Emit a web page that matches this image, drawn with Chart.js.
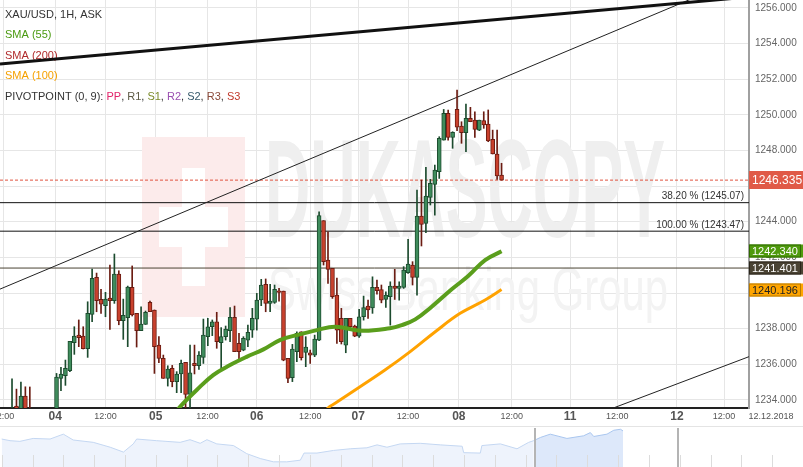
<!DOCTYPE html>
<html>
<head>
<meta charset="utf-8">
<script src="https://cdn.jsdelivr.net/npm/chart.js@4.4.1/dist/chart.umd.min.js"></script>
<style>
  html, body { margin: 0; padding: 0; background: #fff; }
  #wrap { position: relative; width: 803px; height: 467px; overflow: hidden; }
  .box { position: absolute; left: 0; width: 803px; }
</style>
</head>
<body>
<div id="wrap">
  <div class="box" style="top:0;height:428px"><canvas id="main" width="803" height="428"></canvas></div>
  <div class="box" style="top:428px;height:39px"><canvas id="nav" width="803" height="39"></canvas></div>
</div>
<script>
// XAU/USD 1H candles (index 0 = first candle on the left)
const opens = [
  1232.9, 1233.66, 1233.0, 1234.22, 1233.4, 1232.9, 1232.6, 1232.2, 1232.4, 1232.0,
  1232.6, 1235.21, 1235.36, 1235.64, 1237.21, 1237.64, 1237.59, 1236.88, 1238.8, 1240.88,
  1239.65, 1239.29, 1239.72, 1239.57, 1241.07, 1238.45, 1238.62, 1240.32, 1238.86, 1237.89,
  1238.24, 1239.48, 1239.05, 1237.08, 1236.33, 1235.21, 1235.77, 1235.03, 1235.46, 1236.11,
  1234.31, 1236.05, 1235.92, 1236.39, 1237.55, 1238.11, 1238.39, 1237.21, 1237.55, 1237.89,
  1238.64, 1237.18, 1236.8, 1237.36, 1237.92, 1238.54, 1239.61, 1240.49, 1239.42, 1239.48,
  1240.13, 1240.11, 1236.33, 1235.25, 1236.71, 1237.83, 1236.67, 1236.65, 1236.52, 1237.36,
  1244.06, 1241.85, 1241.38, 1239.88, 1238.58, 1237.08, 1238.58, 1238.15, 1237.58, 1238.67,
  1239.27, 1239.17, 1240.32, 1240.2, 1239.64, 1239.79, 1240.39, 1240.26, 1240.32, 1241.14,
  1241.57, 1240.88, 1244.32, 1243.91, 1245.37, 1246.1, 1246.81, 1248.58, 1250.08, 1248.73,
  1250.3, 1249.37, 1249.0, 1249.8, 1249.7, 1249.14, 1249.67, 1249.48, 1248.62, 1247.8,
  1246.62
];
const highs = [
  1235.18, 1234.61, 1235.01, 1234.74, 1234.73, 1233.3, 1233.0, 1232.7, 1232.9, 1232.8,
  1235.49, 1235.83, 1236.24, 1237.29, 1238.11, 1238.49, 1238.11, 1239.51, 1241.35, 1241.12,
  1240.21, 1240.04, 1241.57, 1242.19, 1241.25, 1239.66, 1240.39, 1241.52, 1238.86, 1239.23,
  1238.99, 1239.55, 1239.05, 1237.55, 1236.52, 1235.92, 1235.94, 1235.59, 1236.24, 1236.11,
  1237.08, 1237.08, 1236.71, 1238.54, 1238.58, 1238.49, 1238.92, 1238.06, 1238.15, 1239.18,
  1239.27, 1237.74, 1237.55, 1238.2, 1239.14, 1239.98, 1240.77, 1240.79, 1240.49, 1240.45,
  1240.26, 1240.11, 1236.33, 1237.12, 1237.83, 1237.83, 1237.55, 1236.8, 1237.64, 1244.56,
  1244.06, 1243.44, 1241.38, 1240.84, 1239.14, 1238.58, 1238.58, 1238.2, 1239.08, 1239.83,
  1239.6, 1240.91, 1240.73, 1240.45, 1240.07, 1240.63, 1241.33, 1240.63, 1241.48, 1243.01,
  1241.76, 1245.78, 1246.34, 1247.05, 1246.38, 1247.18, 1248.77, 1250.3, 1250.27, 1249.05,
  1251.39, 1249.61, 1250.6, 1250.42, 1250.17, 1249.7, 1250.17, 1250.27, 1249.14, 1249.14,
  1247.28
];
const lows = [
  1232.5, 1232.8, 1232.7, 1232.6, 1232.5, 1232.3, 1231.9, 1231.6, 1231.8, 1231.7,
  1232.4, 1234.52, 1234.82, 1235.59, 1236.56, 1236.99, 1236.86, 1236.39, 1238.39, 1238.95,
  1238.86, 1238.67, 1237.96, 1239.42, 1238.22, 1237.4, 1236.99, 1238.71, 1236.97, 1237.89,
  1238.24, 1238.95, 1235.49, 1236.09, 1235.21, 1234.78, 1234.74, 1234.41, 1234.41, 1233.4,
  1233.4, 1235.46, 1235.72, 1236.05, 1237.05, 1237.61, 1236.9, 1235.72, 1237.36, 1237.27,
  1236.71, 1236.24, 1236.76, 1236.99, 1237.51, 1237.92, 1239.29, 1238.95, 1238.95, 1239.42,
  1239.55, 1236.2, 1234.97, 1235.03, 1236.15, 1236.24, 1235.87, 1236.05, 1236.43, 1237.33,
  1241.57, 1240.54, 1239.7, 1237.17, 1237.14, 1236.65, 1238.02, 1237.55, 1237.51, 1238.48,
  1238.58, 1238.86, 1239.94, 1239.45, 1239.19, 1238.2, 1239.64, 1239.6, 1240.26, 1241.1,
  1240.45, 1239.88, 1242.64, 1243.39, 1244.94, 1244.37, 1246.43, 1248.58, 1248.58, 1248.12,
  1249.11, 1248.4, 1247.93, 1249.61, 1248.73, 1249.11, 1249.24, 1248.49, 1247.8, 1246.38,
  1246.335
];
const closes = [
  1233.3, 1233.2, 1234.22, 1233.0, 1232.9, 1232.6, 1232.2, 1232.4, 1232.0, 1232.6,
  1235.29, 1235.46, 1235.77, 1237.29, 1237.59, 1237.49, 1236.88, 1238.86, 1240.82, 1239.57,
  1239.37, 1239.66, 1239.57, 1241.07, 1238.45, 1238.75, 1240.34, 1238.77, 1237.89, 1238.26,
  1238.92, 1238.95, 1236.99, 1236.33, 1235.21, 1235.73, 1235.03, 1235.46, 1236.05, 1234.31,
  1235.53, 1235.92, 1236.52, 1237.64, 1238.11, 1238.39, 1237.27, 1237.55, 1237.98, 1238.64,
  1236.71, 1236.71, 1237.46, 1237.79, 1238.58, 1239.61, 1240.45, 1239.42, 1239.55, 1240.21,
  1240.04, 1236.24, 1235.21, 1236.86, 1237.74, 1236.37, 1236.97, 1236.52, 1237.42, 1244.34,
  1241.76, 1241.33, 1239.8, 1237.92, 1237.27, 1238.58, 1238.11, 1237.58, 1238.67, 1239.19,
  1239.05, 1240.32, 1240.13, 1239.6, 1239.89, 1240.39, 1240.26, 1240.39, 1241.29, 1241.63,
  1240.88, 1244.32, 1243.85, 1245.44, 1246.15, 1246.9, 1248.68, 1250.08, 1248.73, 1249.01,
  1249.3, 1249.0, 1249.8, 1249.61, 1249.18, 1249.7, 1249.43, 1248.53, 1247.8, 1246.57,
  1246.335
];

// moving averages, sampled along the drawn curves
const sma55Idx = [36.5, 37.75, 41.5, 45.2, 49.0, 52.7, 56.5, 60.2, 64.0, 68.5, 72.6, 78.6, 84.9, 87.6, 90.6, 94.3, 98.8, 102.5, 106.3, 110];
const sma55Val = [1233.2, 1233.62, 1234.56, 1235.4, 1235.96, 1236.42, 1236.84, 1237.36, 1237.64, 1237.92, 1238.11, 1237.88, 1238.02, 1238.2, 1238.52, 1239.23, 1240.21, 1240.95, 1241.85, 1242.34];
const sma100Idx = [70, 71.0, 72.6, 78.2, 83.8, 89.4, 95.1, 100.7, 106.3, 110];
const sma100Val = [1233.2, 1233.55, 1233.81, 1234.74, 1235.68, 1236.7, 1237.83, 1238.86, 1239.61, 1240.196];

// drawn trend lines: [start index, start price, end index, end price]
const trendMain = [-2.7, 1252.85, 165.6, 1256.61];
const channelUp = [-2.7, 1240.22, 165.6, 1257.86];
const channelLow = [133, 1233.35, 165.6, 1236.43];

// fibonacci / pivot / last price
const fibNames = ["38.20 %", "100.00 %"];
const fibLevels = [1245.07, 1243.47];
const pivotPP = 1241.401;
const lastPrice = 1246.335;

// axes
const timeTicks = [-2.0, 9.7, 21.0, 32.3, 43.9, 55.0, 67.0, 77.8, 89.0, 100.4, 112.3, 125.4, 136.0, 149.4, 160.0];
const timeLabels = ["12:00", "04", "12:00", "05", "12:00", "06", "12:00", "07", "12:00", "08", "12:00", "11", "12:00", "12", "12:00"];
const priceTicks = [1234, 1236, 1238, 1240, 1242, 1244, 1246, 1248, 1250, 1252, 1254, 1256];
const dateLabel = "12.12.2018";

// navigator (longer history), position in days and height of the area
const navPos = [0, 0.27, 0.59, 1.02, 1.57, 2.0, 2.32, 2.97, 3.52, 3.95, 4.27, 4.38, 5.03, 5.79, 6.11, 6.44, 6.66, 6.98, 7.52, 7.95,
  8.39, 8.82, 9.25, 9.69, 9.81, 10.23, 10.77, 11.31, 11.85, 12.18, 12.5, 12.93, 13.58, 14.23, 14.94, 14.99, 15.53, 15.58, 16.18, 16.72,
  17.1, 17.26, 17.48, 17.8, 18.34, 18.88, 19.1, 19.21, 19.64, 19.86, 20.08, 20.16];
const navLevel = [28.7, 27, 26.3, 29.3, 28.7, 33.7, 27.7, 25.3, 20.3, 15.3, 23.7, 28.7, 27, 25.3, 28, 24.3, 28, 23.7, 22, 13.7,
  8.7, 5.3, 5.3, 7, 14.3, 14.3, 17, 18.7, 19.7, 22.7, 20.3, 23.7, 24.3, 22.7, 21.3, 14.7, 14.3, 22, 23.7, 18.7,
  25.3, 27, 30.3, 33.7, 29.3, 32, 35.3, 31.3, 33.7, 37.7, 38.7, 37];
const navWindowStart = 17.26;
const navHandles = [17.31, 21.93];

const FONT = '"Liberation Sans", Arial, sans-serif';
const GREEN_BODY = '#3f8c5c', GREEN_EDGE = '#1c4b2e';
const RED_BODY = '#c9412d', RED_EDGE = '#6b1c12';

const isUp = opens.map((o, i) => closes[i] >= o);
const bodyColors = isUp.map(u => u ? GREEN_BODY : RED_BODY);
const edgeColors = isUp.map(u => u ? GREEN_EDGE : RED_EDGE);

const seg = (a, extra) => Object.assign({
  type: 'line',
  data: [{ x: a[0], y: a[1] }, { x: a[2], y: a[3] }],
  pointRadius: 0,
  borderWidth: 1,
  borderColor: '#222',
  order: 5,
}, extra);
const hline = (v, extra) => seg([-2.7, v, 165.6, v], extra);

const overlay = {
  id: 'overlay',
  beforeDatasetsDraw(chart) {
    const ctx = chart.ctx;
    ctx.save();
    // watermark: logo with a cross, name, slogan
    ctx.fillStyle = '#fcebeb';
    ctx.fillRect(142, 137, 103, 180);
    ctx.fillStyle = '#ffffff';
    ctx.fillRect(159, 207, 69, 40);
    ctx.fillRect(182, 168, 23, 118);
    ctx.fillStyle = '#efefef';
    ctx.font = 'bold 140px ' + FONT;
    ctx.textBaseline = 'alphabetic';
    let w = ctx.measureText('DUKASCOPY').width;
    ctx.save();
    ctx.translate(265, 237);
    ctx.scale(400 / w, 1);
    ctx.fillText('DUKASCOPY', 0, 0);
    ctx.restore();
    ctx.fillStyle = '#f3f3f3';
    ctx.font = '62px ' + FONT;
    w = ctx.measureText('Swiss Banking Group').width;
    ctx.save();
    ctx.translate(268, 310);
    ctx.scale(400 / w, 1);
    ctx.fillText('Swiss Banking Group', 0, 0);
    ctx.restore();

    // legend
    ctx.font = '11px ' + FONT;
    ctx.textBaseline = 'middle';
    ctx.textAlign = 'left';
    const rows = [['XAU/USD, 1H, ASK', '#333'], ['SMA (55)', '#4a9a10'], ['SMA (200)', '#b02a2a'], ['SMA (100)', '#f5a000']];
    rows.forEach((r, k) => { ctx.fillStyle = r[1]; ctx.fillText(r[0], 5, 15 + k * 20.3); });
    const piv = [['PIVOTPOINT (0, 9): ', '#333'], ['PP', '#e2236a'], [', ', '#333'], ['R1', '#5d5a45'], [', ', '#333'],
      ['S1', '#7a8a2a'], [', ', '#333'], ['R2', '#9a4fb0'], [', ', '#333'], ['S2', '#35586a'], [', ', '#333'],
      ['R3', '#8a4a3a'], [', ', '#333'], ['S3', '#c0392b']];
    let px = 5;
    piv.forEach(p => { ctx.fillStyle = p[1]; ctx.fillText(p[0], px, 96.5); px += ctx.measureText(p[0]).width; });
    ctx.restore();
  },
  afterDraw(chart) {
    const ctx = chart.ctx;
    const xs = chart.scales.x, ys = chart.scales.y;
    const area = chart.chartArea;
    ctx.save();
    // fib labels
    ctx.font = '10px ' + FONT;
    ctx.fillStyle = '#333';
    ctx.textAlign = 'right';
    ctx.textBaseline = 'middle';
    fibLevels.forEach((v, k) => {
      ctx.fillText(fibNames[k] + ' (' + v.toFixed(2) + ')', area.right - 5, ys.getPixelForValue(v) - 6);
    });
    // price axis labels
    ctx.textAlign = 'left';
    ctx.fillStyle = '#666';
    priceTicks.forEach(v => ctx.fillText(v.toFixed(3), area.right + 6, ys.getPixelForValue(v)));
    // time axis labels
    ctx.textAlign = 'center';
    timeTicks.forEach((v, k) => {
      const day = timeLabels[k].length === 2;
      ctx.font = (day ? 'bold 12px ' : '9px ') + FONT;
      ctx.fillStyle = '#555';
      ctx.fillText(timeLabels[k], xs.getPixelForValue(v), 417);
    });
    ctx.font = '9px ' + FONT;
    ctx.fillText(dateLabel, 771, 417);
    // separator above navigator
    ctx.fillStyle = '#e4e4e4';
    ctx.fillRect(0, 426, 803, 1);
    // value boxes on the price axis
    const box = (v, bg, edge, fg, size, h) => {
      const y = Math.round(ys.getPixelForValue(v));
      ctx.fillStyle = bg;
      ctx.fillRect(area.right, y - h / 2, 803 - area.right, h);
      if (edge) { ctx.strokeStyle = edge; ctx.lineWidth = 1; ctx.strokeRect(area.right + 0.5, y - h / 2 + 0.5, 51, h - 1); }
      ctx.fillStyle = fg;
      ctx.font = size + 'px ' + FONT;
      ctx.textAlign = 'left';
      ctx.fillText(v.toFixed(3), area.right + 3, y + 0.5);
    };
    box(lastPrice, '#e05a47', null, '#fff', 12, 18);
    box(sma55Val[sma55Val.length - 1], '#4f9a0d', '#2f6a00', '#fff', 11, 13);
    box(pivotPP, '#4a4333', '#2a251a', '#fff', 11, 13);
    box(sma100Val[sma100Val.length - 1], '#ffa500', '#b87a00', '#222', 11, 13);
    ctx.restore();
  }
};

new Chart(document.getElementById('main'), {
  type: 'line',
  data: {
    datasets: [
      {
        type: 'line', label: 'SMA (55)',
        data: sma55Idx.map((x, k) => ({ x, y: sma55Val[k] })),
        borderColor: '#5a9e1c', borderWidth: 4, pointRadius: 0, tension: 0.4, order: 1,
      },
      {
        type: 'line', label: 'SMA (100)',
        data: sma100Idx.map((x, k) => ({ x, y: sma100Val[k] })),
        borderColor: '#ffa200', borderWidth: 3, pointRadius: 0, tension: 0.4, order: 1,
      },
      {
        type: 'bar', label: 'body',
        data: opens.map((o, i) => ({ x: i, y: [o, closes[i]] })),
        backgroundColor: bodyColors, borderColor: edgeColors, borderWidth: 1, borderSkipped: false,
        barThickness: 4, minBarLength: 1, grouped: false, order: 2,
      },
      {
        type: 'bar', label: 'wick',
        data: lows.map((l, i) => ({ x: i, y: [l, highs[i]] })),
        backgroundColor: edgeColors, barThickness: 1, grouped: false, order: 3,
      },
      seg(trendMain, { borderWidth: 3, borderColor: '#111' }),
      seg(channelUp),
      seg(channelLow),
      hline(fibLevels[0], { borderColor: '#111' }),
      hline(fibLevels[1], { borderColor: '#111' }),
      hline(pivotPP, { borderColor: '#4a4333' }),
      hline(lastPrice, { borderColor: '#e0523f', borderDash: [3, 2] }),
    ]
  },
  options: {
    responsive: false,
    animation: false,
    events: [],
    layout: { padding: 0 },
    plugins: { legend: { display: false }, tooltip: { enabled: false } },
    scales: {
      x: {
        type: 'linear', min: -2.7, max: 165.6, offset: false,
        afterBuildTicks: s => { s.ticks = timeTicks.map(v => ({ value: v })); },
        afterFit: s => { s.height = 20; },
        ticks: { display: false },
        grid: { color: '#e6e6e6', drawTicks: false, offset: false },
        border: { color: '#222', width: 2 },
      },
      y: {
        type: 'linear', position: 'right', min: 1233.55, max: 1256.44,
        afterBuildTicks: s => { s.ticks = priceTicks.map(v => ({ value: v })); },
        afterFit: s => { s.width = 54; },
        ticks: { display: false },
        grid: { color: '#e6e6e6', drawTicks: false },
        border: { color: '#a0a0a0', width: 2 },
      }
    }
  },
  plugins: [overlay]
});

// navigator
const navTicks = [];
for (let d = 0; d <= 26; d++) navTicks.push(d);
const navExtras = {
  id: 'navExtras',
  afterDatasetsDraw(chart) {
    const ctx = chart.ctx, xs = chart.scales.x;
    ctx.save();
    ctx.fillStyle = '#dcdcdc';
    navTicks.forEach(d => ctx.fillRect(Math.round(xs.getPixelForValue(d)), 27, 1, 12));
    ctx.fillStyle = '#b4b4b4';
    navHandles.forEach(d => ctx.fillRect(Math.round(xs.getPixelForValue(d)) - 1, 0, 2, 39));
    ctx.restore();
  }
};
const navPts = navPos.map((x, k) => ({ x, y: navLevel[k] }));
new Chart(document.getElementById('nav'), {
  type: 'line',
  data: {
    datasets: [
      {
        data: navPts.filter(p => p.x <= navWindowStart),
        borderColor: '#c4d7f2', borderWidth: 1, backgroundColor: '#eef3fc', fill: 'origin', pointRadius: 0,
      },
      {
        data: navPts.filter(p => p.x >= navWindowStart),
        borderColor: '#a9c6ef', borderWidth: 1, backgroundColor: '#dde8fa', fill: 'origin', pointRadius: 0,
      }
    ]
  },
  options: {
    responsive: false,
    animation: false,
    events: [],
    plugins: { legend: { display: false }, tooltip: { enabled: false } },
    scales: {
      x: { type: 'linear', min: -0.055, max: 26.0, display: false },
      y: { min: 0, max: 40, display: false }
    }
  },
  plugins: [navExtras]
});
</script>
</body>
</html>
